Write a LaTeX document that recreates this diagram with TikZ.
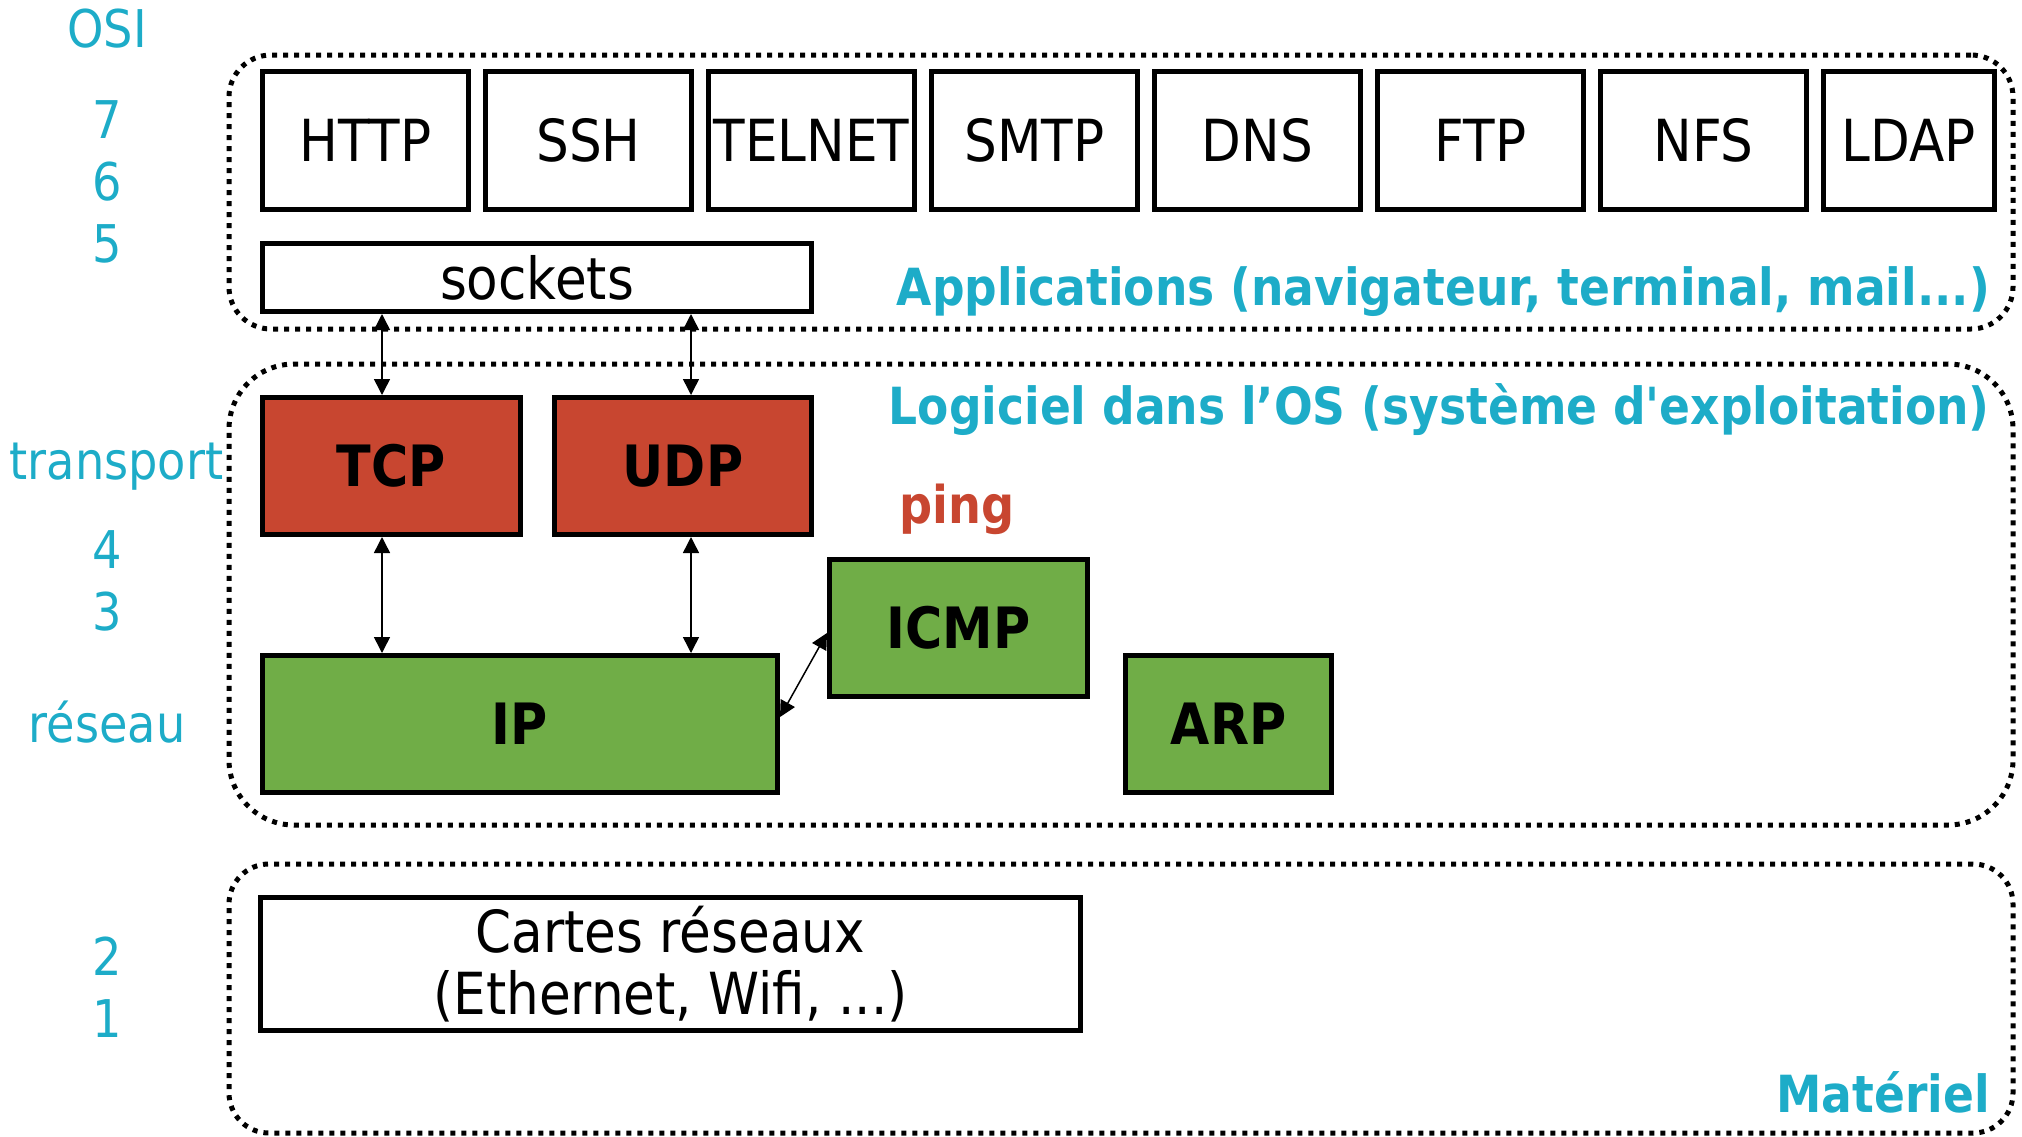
\documentclass[tikz,border=0pt]{standalone}
\usepackage{fontspec}
\setmainfont{DejaVu Sans}[FakeStretch=0.89, Ligatures=TeXOff]
\usetikzlibrary{arrows.meta}
\definecolor{cy}{HTML}{1DACC8}
\definecolor{rd}{HTML}{C84630}
\definecolor{gr}{HTML}{70AD47}
\begin{document}
\begin{tikzpicture}[x=1pt,y=-1pt,
  box/.style={draw=black, line width=5pt, inner sep=0pt, font=\fontsize{58}{62}\selectfont, align=center},
  protobox/.style={box, fill=white, minimum width=206pt, minimum height=138pt},
  redbox/.style={box, fill=rd, font=\fontsize{57}{62}\selectfont\bfseries, minimum height=137pt},
  greenbox/.style={box, fill=gr, font=\fontsize{57}{62}\selectfont\bfseries, minimum height=137pt},
  zone/.style={draw=black, line width=5pt, dash pattern=on 5pt off 6pt, minimum width=1784pt, inner sep=0pt},
  osilbl/.style={text=cy, font=\fontsize{52}{60}\selectfont, anchor=base, inner sep=0pt},
  zonelbl/.style={text=cy, font=\fontsize{51.2}{60}\selectfont\bfseries, anchor=base east, inner sep=0pt},
  pinglbl/.style={text=rd, font=\fontsize{52}{60}\selectfont\bfseries, anchor=base, inner sep=0pt},
  link/.style={line width=1.5pt, {Triangle[width=16pt,length=16pt]}-{Triangle[width=16pt,length=16pt]}}
]
\useasboundingbox (0,0) rectangle (2022,1136);

% zones
\node[zone, minimum height=274pt, rounded corners=42pt] (app) at (1121,192) {};
\node[zone, minimum height=461pt, rounded corners=65pt] (os) at (1121,594.5) {};
\node[zone, minimum height=269pt, rounded corners=40pt] (mat) at (1121,998.5) {};

% OSI labels
\node[osilbl] (osi) at (107,47) {OSI};
\node[osilbl] (l7) at (107,138) {7};
\node[osilbl] (l6) at (107,200) {6};
\node[osilbl] (l5) at (107,262) {5};
\node[osilbl] (ltr) at (116.5,479) {transport};
\node[osilbl] (l4) at (107,568) {4};
\node[osilbl] (l3) at (107,630) {3};
\node[osilbl] (lres) at (107,742) {réseau};
\node[osilbl] (l2) at (107,975) {2};
\node[osilbl] (l1) at (107,1037) {1};

% application protocols
\node[protobox] (http) at (365.5,140.5) {HTTP};
\node[protobox] (ssh) at (588.5,140.5) {SSH};
\node[protobox] (telnet) at (811.5,140.5) {TELNET};
\node[protobox] (smtp) at (1034.5,140.5) {SMTP};
\node[protobox] (dns) at (1257.5,140.5) {DNS};
\node[protobox] (ftp) at (1480.5,140.5) {FTP};
\node[protobox] (nfs) at (1703.5,140.5) {NFS};
\node[protobox, minimum width=171pt] (ldap) at (1909,140.5) {LDAP};

\node[box, fill=white, minimum width=549pt, minimum height=68pt] (sockets) at (537,277.5) {sockets};

% zone labels
\node[zonelbl] (tapp) at (1990,305) {Applications (navigateur, terminal, mail...)};
\node[zonelbl] (tos) at (1990,424) {Logiciel dans l’OS (système d'exploitation)};
\node[zonelbl] (tmat) at (1990,1112) {Matériel};

% transport / network
\node[redbox, minimum width=257.5pt] (tcp) at (391.25,466) {TCP};
\node[redbox, minimum width=257pt] (udp) at (683,466) {UDP};
\node[pinglbl] (ping) at (957,523) {ping};
\node[greenbox, minimum width=258pt] (icmp) at (958.5,628) {ICMP};
\node[greenbox, minimum width=515pt] (ip) at (520,724) {IP};
\node[greenbox, minimum width=206pt] (arp) at (1228.5,724) {ARP};

% hardware
\node[box, fill=white, minimum width=820pt, minimum height=133pt] (cartes) at (670.5,964) {Cartes réseaux\\(Ethernet, Wifi, ...)};

% connectors
\coordinate (xa) at (382,0);
\coordinate (xb) at (691,0);
\coordinate (ya) at (0,717);
\coordinate (yb) at (0,633);
\draw[link] (sockets.south -| xa) -- (tcp.north -| xa);
\draw[link] (sockets.south -| xb) -- (udp.north -| xb);
\draw[link] (tcp.south -| xa) -- (ip.north -| xa);
\draw[link] (udp.south -| xb) -- (ip.north -| xb);
\draw[link] (ip.east |- ya) -- (icmp.west |- yb);
\end{tikzpicture}
\end{document}
